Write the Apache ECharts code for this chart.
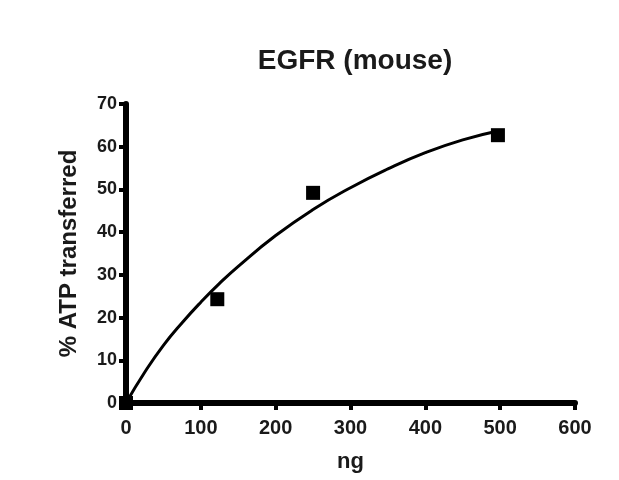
<!DOCTYPE html>
<html><head><meta charset="utf-8">
<script src="https://cdn.jsdelivr.net/npm/echarts@6/dist/echarts.min.js"></script>
<style>html,body{margin:0;padding:0;background:#fff}#c{width:619px;height:480px}</style>
</head><body><div id="c"></div>
<script>
var pointX = [0, 122, 250, 497];
var pointY = [0, 24.3, 49.2, 62.7];
var curveX = [0, 25, 50, 75, 100, 125, 150, 200, 250, 300, 350, 400, 450, 500];
var curveY = [0, 7.2, 13.5, 18.8, 23.6, 28, 32, 39.2, 45.3, 50.4, 54.8, 58.6, 61.6, 63.8];
var xTicks = [0, 100, 200, 300, 400, 500, 600];
var yTicks = [0, 10, 20, 30, 40, 50, 60, 70];

var chart = echarts.init(document.getElementById('c'), null, {renderer: 'canvas'});
var font = 'Liberation Sans, Arial, sans-serif';
chart.setOption({
  animation: false,
  title: {text: 'EGFR (mouse)', left: 350, top: 42, textAlign: 'center',
    textStyle: {fontFamily: font, fontSize: 28, fontWeight: 'bold', color: '#1a1a1a'}},
  grid: {left: 126, right: 44, top: 104, bottom: 77, containLabel: false},
  xAxis: {type: 'value', min: xTicks[0], max: xTicks[xTicks.length - 1], interval: 100,
    name: 'ng', nameLocation: 'middle', nameGap: 48,
    nameTextStyle: {fontFamily: font, fontSize: 22, fontWeight: 'bold', color: '#1a1a1a'},
    axisLine: {show: true, onZero: false, lineStyle: {color: '#000', width: 6}},
    axisTick: {show: true, length: 7, lineStyle: {color: '#000', width: 4}},
    axisLabel: {fontFamily: font, fontSize: 20, fontWeight: 'bold', color: '#1a1a1a', margin: 15},
    splitLine: {show: false}},
  yAxis: {type: 'value', min: yTicks[0], max: yTicks[yTicks.length - 1], interval: 10,
    name: '% ATP transferred', nameLocation: 'middle', nameGap: 45,
    nameTextStyle: {fontFamily: font, fontSize: 24, fontWeight: 'bold', color: '#1a1a1a'},
    axisLine: {show: true, onZero: false, lineStyle: {color: '#000', width: 6}},
    axisTick: {show: true, length: 7, lineStyle: {color: '#000', width: 4}},
    axisLabel: {fontFamily: font, fontSize: 18, fontWeight: 'bold', color: '#1a1a1a', margin: 9},
    splitLine: {show: false}},
  series: [
    {type: 'line', data: curveX.map(function(x, i){return [x, curveY[i]];}),
     smooth: true, showSymbol: false, symbol: 'none',
     lineStyle: {color: '#000', width: 3}, z: 2},
    {type: 'scatter', data: pointX.map(function(x, i){return [x, pointY[i]];}),
     symbol: 'rect', symbolSize: 14, itemStyle: {color: '#000', opacity: 1}, z: 3}
  ]
});
</script></body></html>
